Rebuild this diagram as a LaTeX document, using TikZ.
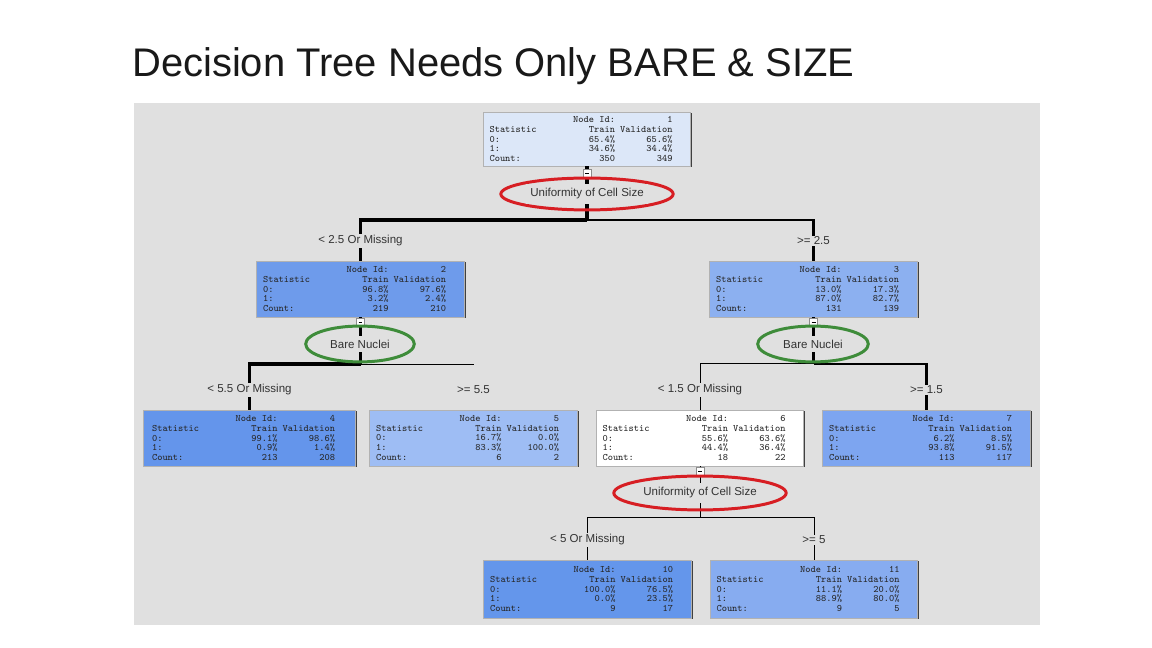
\documentclass[tikz,border=0pt]{standalone}
\usepackage{fontspec}
\setmainfont{Liberation Sans}
\usetikzlibrary{positioning,shapes.geometric,shadows}

\definecolor{panel}{RGB}{224,224,224}
\definecolor{shaderoot}{RGB}{220,231,248}
\definecolor{shadetwo}{RGB}{110,155,235}
\definecolor{shadethree}{RGB}{140,176,240}
\definecolor{shadefour}{RGB}{100,149,235}
\definecolor{shadefive}{RGB}{158,189,244}
\definecolor{shadeseven}{RGB}{125,165,240}
\definecolor{shadeten}{RGB}{100,150,235}
\definecolor{shadeeleven}{RGB}{135,172,240}
\definecolor{ovalred}{RGB}{215,30,35}
\definecolor{ovalgreen}{RGB}{62,140,58}

\newlength\cw
\newlength\pxu \setlength\pxu{0.70866pt}
\newcommand{\statfont}{\ttfamily\fontsize{7}{7.05}\selectfont\settowidth{\cw}{0}}
\newcommand{\labelfont}{\fontsize{8.2}{9}\selectfont}
\newcommand{\srow}[3]{\makebox[\dimexpr35\cw+12\pxu\relax][l]{\makebox[16\cw][l]{#1}\makebox[8\cw][r]{#2}\makebox[11\cw][r]{#3}}}
\newcommand{\statlines}[7]{\srow{}{Node Id:}{#1}\\\srow{Statistic}{Train}{Validation}\\\srow{0:}{#2}{#3}\\\srow{1:}{#4}{#5}\\\srow{Count:}{#6}{#7}}

\tikzset{
  statnode/.style={rectangle, draw=black!30, line width=0.4pt, fill=#1, inner sep=0pt,
    minimum width=209\pxu, minimum height=56\pxu, align=left, font=\statfont, text=black!85,
    drop shadow={shadow xshift=0.7pt, shadow yshift=-0.7pt, fill=black!75, opacity=1}},
  wire/.style={draw=black, line width=#1\pxu},
  togglebox/.style={rectangle, draw=black!45, fill=white, line width=0.4pt, inner sep=0pt,
    minimum size=8\pxu},
  splitoval/.style={ellipse, draw=#1, line width=3\pxu, inner sep=0pt, font=\labelfont,
    text=black!80},
  splitlabel/.style={fill=panel, font=\labelfont, text=black!80, inner sep=1pt}
}

\begin{document}
\begin{tikzpicture}[x=0.025cm, y=-0.025cm]
  \useasboundingbox (0,0) rectangle (1152,648);
  \fill[white] (0,0) rectangle (1152,648);
  \fill[panel] (134,103) rectangle (1040,625);
  \node[anchor=base west, inner sep=0pt, font=\fontsize{28.4}{30}\selectfont, text=black!90] (title) at (132,77)
    {Decision Tree Needs Only BARE \& SIZE};

  % tree nodes
  \node[statnode=shaderoot, minimum width=208\pxu, minimum height=54\pxu] (n1) at (587,139)
    {\statlines{1}{65.4\%}{65.6\%}{34.6\%}{34.4\%}{350}{349}};
  \node[statnode=shadetwo] (n2) at (360.5,289)
    {\statlines{2}{96.8\%}{97.6\%}{3.2\%}{2.4\%}{219}{210}};
  \node[statnode=shadethree] (n3) at (813.5,289)
    {\statlines{3}{13.0\%}{17.3\%}{87.0\%}{82.7\%}{131}{139}};
  \node[statnode=shadefour, minimum width=213\pxu] (n4) at (249.5,438)
    {\statlines{4}{99.1\%}{98.6\%}{0.9\%}{1.4\%}{213}{208}};
  \node[statnode=shadefive] (n5) at (473.5,438)
    {\statlines{5}{16.7\%}{0.0\%}{83.3\%}{100.0\%}{6}{2}};
  \node[statnode=white, minimum width=208\pxu] (n6) at (700,438)
    {\statlines{6}{55.6\%}{63.6\%}{44.4\%}{36.4\%}{18}{22}};
  \node[statnode=shadeseven] (n7) at (926.5,438)
    {\statlines{7}{6.2\%}{8.5\%}{93.8\%}{91.5\%}{113}{117}};
  \node[statnode=shadeten, minimum height=58\pxu] (n10) at (587.5,589)
    {\statlines{10}{100.0\%}{76.5\%}{0.0\%}{23.5\%}{9}{17}};
  \node[statnode=shadeeleven, minimum width=208\pxu, minimum height=58\pxu] (n11) at (814,589)
    {\statlines{11}{11.1\%}{20.0\%}{88.9\%}{80.0\%}{9}{5}};

  % split points
  \coordinate (s1) at (587,220);
  \coordinate (s2) at (360.5,364);
  \coordinate (s3) at (813.5,364);
  \coordinate (s6) at (700,517);
  \coordinate (c5) at (473.5,364);

  % connectors, width after the counts
  \draw[wire=5] (n1.south) -- (s1);
  \draw[wire=4] (s1) -| (n2.north);
  \draw[wire=2.5] (s1) -| (n3.north);
  \draw[wire=4] (n2.south) -- (s2);
  \draw[wire=4] (s2) -| (n4.north);
  \draw[wire=0.8] (s2) -- (c5);
  \draw[wire=2.5] (n3.south) -- (s3);
  \draw[wire=1] (s3) -| (n6.north);
  \draw[wire=3] (s3) -| (n7.north);
  \draw[wire=1] (n6.south) -- (s6);
  \draw[wire=0.6] (s6) -| (n10.north);
  \draw[wire=0.6] (s6) -| (n11.north);

  % collapse boxes
  \node[togglebox] (m1) at (587,173) {\rule{4\pxu}{0.5pt}};
  \node[togglebox] (m2) at (360.5,322) {\rule{4\pxu}{0.5pt}};
  \node[togglebox] (m3) at (813.5,322) {\rule{4\pxu}{0.5pt}};
  \node[togglebox] (m6) at (700,471) {\rule{4\pxu}{0.5pt}};

  % split variables
  \node[splitoval=ovalred, minimum width=168\pxu, minimum height=32\pxu] (e1) at (587,194)
    {\colorbox{panel}{Uniformity of Cell Size}};
  \node[splitoval=ovalgreen, minimum width=109\pxu, minimum height=36\pxu] (e2) at (360,344)
    {\colorbox{panel}{Bare Nuclei}};
  \node[splitoval=ovalgreen, minimum width=111\pxu, minimum height=36\pxu] (e3) at (813,344)
    {\colorbox{panel}{Bare Nuclei}};
  \node[splitoval=ovalred, minimum width=142\pxu, minimum height=34\pxu] (e6) at (700,493)
    {\colorbox{panel}{Uniformity of Cell Size}};

  % branch rules
  \node[splitlabel] (b2) at (360.5,241) {< 2.5 Or Missing};
  \node[splitlabel] (b3) at (813.5,241) {>= 2.5};
  \node[splitlabel] (b4) at (249.5,390) {< 5.5 Or Missing};
  \node[splitlabel] (b5) at (473.5,390) {>= 5.5};
  \node[splitlabel] (b6) at (700,390) {< 1.5 Or Missing};
  \node[splitlabel] (b7) at (926.5,390) {>= 1.5};
  \node[splitlabel] (b10) at (587.5,540) {< 5 Or Missing};
  \node[splitlabel] (b11) at (814,540) {>= 5};
\end{tikzpicture}
\end{document}
